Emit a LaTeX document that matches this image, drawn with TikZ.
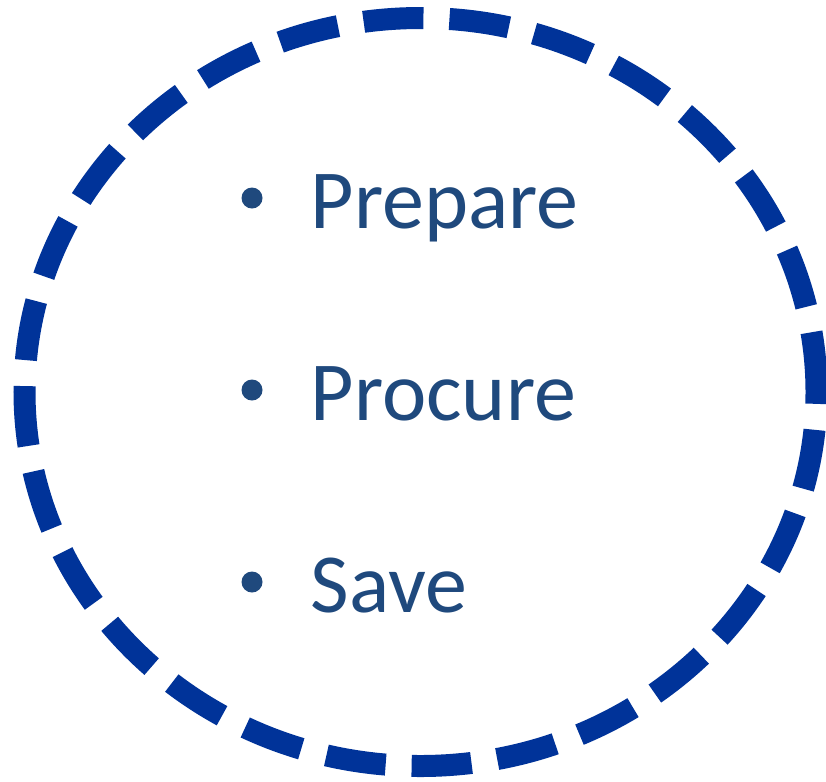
\documentclass[tikz,border=0pt]{standalone}
\usepackage{fontspec}
\setmainfont{Carlito}
\usepackage{tikz}
\usetikzlibrary{calc}
\definecolor{ringBlue}{HTML}{003399}
\definecolor{textBlue}{HTML}{1F497D}
\begin{document}
\begin{tikzpicture}
        \useasboundingbox (0, 0) rectangle (8.26, 7.81);
        \tikzset{
            itemText/.style={anchor=base west, inner sep=0pt, text=textBlue,
                font=\fontsize{23.9}{28}\selectfont},
            itemBullet/.style={circle, fill=textBlue, inner sep=0pt,
                minimum size=0.21cm}
        }
        \coordinate (mid) at (4.205, 3.89);
        % dashed ring
        \draw [ringBlue, line width=0.22cm, dash pattern=on 0.6cm off 0.26cm]
            (mid) ellipse [x radius=3.96, y radius=3.74];
        % list
        \foreach \itemName/\itemY in {Prepare/5.53, Procure/3.61, Save/1.69} {
            \node [itemText] (item\itemName) at (3.10, \itemY) {\itemName};
            \node [itemBullet] (bullet\itemName) at (2.52, \itemY + 0.30) {};
        }
    \end{tikzpicture}
\end{document}
